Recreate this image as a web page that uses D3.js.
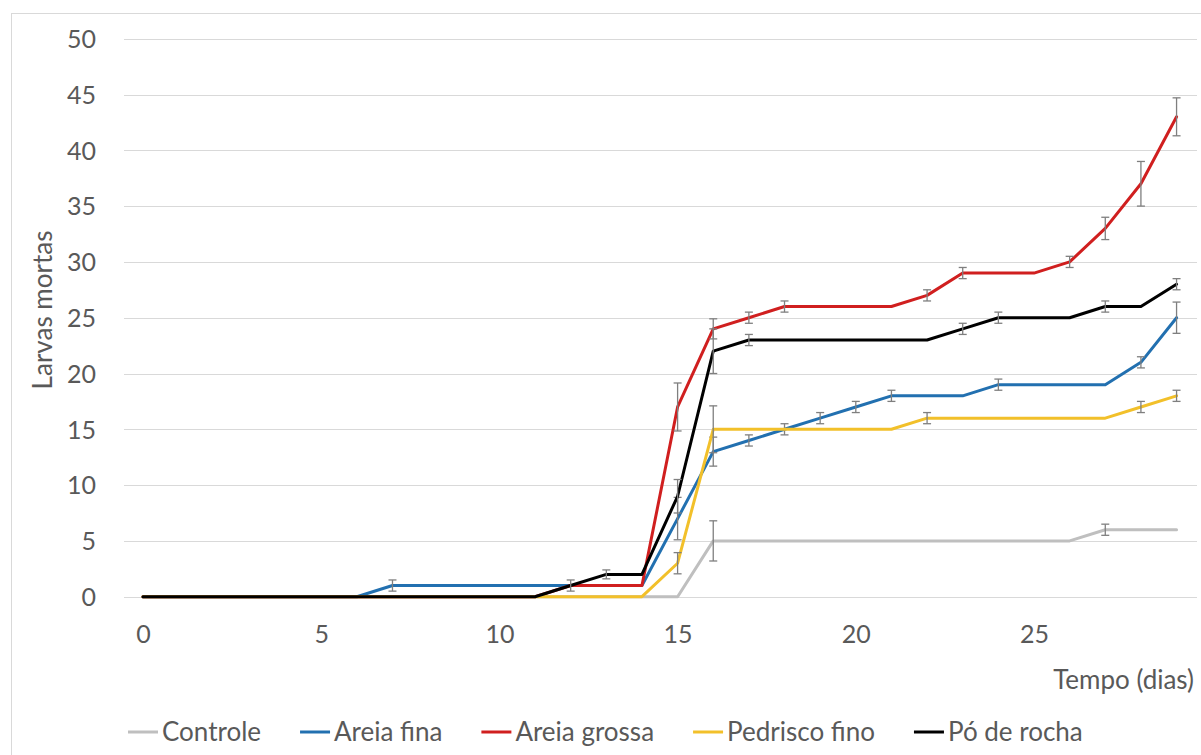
<!DOCTYPE html>
<html>
<head>
<meta charset="utf-8">
<script src="https://cdn.jsdelivr.net/npm/d3@7"></script>
<style>
  html, body { margin: 0; padding: 0; background: #fff; }
  svg { display: block; }
  text { font-family: Lato, "Open Sans", sans-serif; fill: #595959; }
</style>
</head>
<body>
<svg id="chart" width="1201" height="755"></svg>
<script>
// Days of observation
const days = d3.range(0, 30);

// Cumulative dead larvae per treatment, day 0..29
const controle      = [0,0,0,0,0,0,0,0,0,0,0,0,0,0,0,0,5,5,5,5,5,5,5,5,5,5,5,6,6,6];
const areiaFina     = [0,0,0,0,0,0,0,1,1,1,1,1,1,1,1,7,13,14,15,16,17,18,18,18,19,19,19,19,21,25];
const areiaGrossa   = [0,0,0,0,0,0,0,0,0,0,0,0,1,1,1,17,24,25,26,26,26,26,27,29,29,29,30,33,37,43];
const pedriscoFino  = [0,0,0,0,0,0,0,0,0,0,0,0,0,0,0,3,15,15,15,15,15,15,16,16,16,16,16,16,17,18];
const poDeRocha     = [0,0,0,0,0,0,0,0,0,0,0,0,1,2,2,9,22,23,23,23,23,23,23,24,25,25,25,26,26,28];

// Error bar half-widths (0 = no bar)
const errControle     = [0,0,0,0,0,0,0,0,0,0,0,0,0,0,0,0,1.8,0,0,0,0,0,0,0,0,0,0,0.5,0,0];
const errAreiaFina    = [0,0,0,0,0,0,0,0.5,0,0,0,0,0,0,0,1.9,1.3,0.5,0.5,0.5,0.5,0.5,0,0,0.5,0,0,0,0.5,1.4];
const errAreiaGrossa  = [0,0,0,0,0,0,0,0,0,0,0,0,0,0,0,2.15,0.9,0.5,0.5,0,0,0,0.5,0.5,0,0,0.5,1.0,2.0,1.7];
const errPedriscoFino = [0,0,0,0,0,0,0,0,0,0,0,0,0,0,0,0.95,2.1,0,0,0,0,0,0.5,0,0,0,0,0,0.5,0.5];
const errPoDeRocha    = [0,0,0,0,0,0,0,0,0,0,0,0,0.5,0.4,0,1.5,2.0,0.5,0,0,0,0,0,0.5,0.5,0,0,0.5,0,0.5];

const seriesNames  = ["Controle", "Areia fina", "Areia grossa", "Pedrisco fino", "Pó de rocha"];
const seriesColors = ["#bfbfbf", "#2270b0", "#d01f1f", "#f2c02a", "#000000"];

const yTicks = [0, 5, 10, 15, 20, 25, 30, 35, 40, 45, 50];
const xTicks = [0, 5, 10, 15, 20, 25];

const series = [
  { name: seriesNames[0], color: seriesColors[0], values: controle,     err: errControle },
  { name: seriesNames[1], color: seriesColors[1], values: areiaFina,    err: errAreiaFina },
  { name: seriesNames[2], color: seriesColors[2], values: areiaGrossa,  err: errAreiaGrossa },
  { name: seriesNames[3], color: seriesColors[3], values: pedriscoFino, err: errPedriscoFino },
  { name: seriesNames[4], color: seriesColors[4], values: poDeRocha,    err: errPoDeRocha }
];

const svg = d3.select("#chart");

// Chart area frame
svg.append("rect")
  .attr("x", 11.5).attr("y", 13.5)
  .attr("width", 1220).attr("height", 780)
  .attr("fill", "#fff").attr("stroke", "#d9d9d9").attr("stroke-width", 1);

const plot = { left: 124, right: 1197, top: 38.7, bottom: 596.7 };

const x = d3.scaleLinear().domain([0, 25]).range([143, 1034]);
const y = d3.scaleLinear().domain([0, 50]).range([plot.bottom, plot.top]);

// Horizontal gridlines
svg.append("g")
  .selectAll("line")
  .data(yTicks)
  .join("line")
  .attr("x1", plot.left).attr("x2", plot.right)
  .attr("y1", d => Math.round(y(d)) + 0.5).attr("y2", d => Math.round(y(d)) + 0.5)
  .attr("stroke", "#d9d9d9").attr("stroke-width", 1);

// Y axis labels
const yAxis = d3.axisLeft(y).tickValues(yTicks).tickSize(0).tickPadding(0);
svg.append("g")
  .attr("transform", "translate(96,0)")
  .call(yAxis)
  .call(g => g.select(".domain").remove())
  .call(g => g.selectAll("text")
    .attr("font-size", 25).attr("dy", "0.35em")
    .style("font-family", "Lato, 'Open Sans', sans-serif").attr("fill", "#595959"));

// X axis labels
const xAxis = d3.axisBottom(x).tickValues(xTicks).tickSize(0).tickPadding(0);
svg.append("g")
  .attr("transform", "translate(0,634)")
  .call(xAxis)
  .call(g => g.select(".domain").remove())
  .call(g => g.selectAll("text")
    .attr("font-size", 25).attr("dy", "0.35em")
    .style("font-family", "Lato, 'Open Sans', sans-serif").attr("fill", "#595959"));

// Axis titles
svg.append("text")
  .attr("transform", "translate(43,310) rotate(-90)")
  .attr("text-anchor", "middle").attr("dy", "0.35em")
  .attr("font-size", 26)
  .text("Larvas mortas");

svg.append("text")
  .attr("x", 1194).attr("y", 689)
  .attr("text-anchor", "end")
  .attr("font-size", 26)
  .text("Tempo (dias)");

// Series lines and error bars
const line = d3.line().x((d, i) => x(days[i])).y(d => y(d));

series.forEach(s => {
  const g = svg.append("g");
  g.append("path")
    .datum(s.values)
    .attr("d", line)
    .attr("fill", "none")
    .attr("stroke", s.color)
    .attr("stroke-width", 3)
    .attr("stroke-linejoin", "round")
    .attr("stroke-linecap", "round");

  const bars = days.map((d, i) => ({ d, v: s.values[i], e: s.err[i] })).filter(p => p.e > 0);
  const eb = g.append("g").attr("stroke", "#7f7f7f").attr("stroke-width", 1.3).attr("fill", "none");
  eb.selectAll("line.v").data(bars).join("line").attr("class", "v")
    .attr("x1", p => x(p.d)).attr("x2", p => x(p.d))
    .attr("y1", p => y(p.v - p.e)).attr("y2", p => y(p.v + p.e));
  eb.selectAll("line.t").data(bars).join("line").attr("class", "t")
    .attr("x1", p => x(p.d) - 4).attr("x2", p => x(p.d) + 4)
    .attr("y1", p => y(p.v + p.e)).attr("y2", p => y(p.v + p.e));
  eb.selectAll("line.b").data(bars).join("line").attr("class", "b")
    .attr("x1", p => x(p.d) - 4).attr("x2", p => x(p.d) + 4)
    .attr("y1", p => y(p.v - p.e)).attr("y2", p => y(p.v - p.e));
});

// Legend along the bottom
const legend = svg.append("g").attr("transform", "translate(0,732)");
let cursor = 128;
series.forEach(s => {
  const item = legend.append("g").attr("transform", `translate(${cursor},0)`);
  item.append("line")
    .attr("x1", 0).attr("x2", 30).attr("y1", 0).attr("y2", 0)
    .attr("stroke", s.color).attr("stroke-width", 3);
  const t = item.append("text")
    .attr("x", 34).attr("dy", "0.35em")
    .attr("font-size", 26)
    .text(s.name);
  cursor += 34 + t.node().getComputedTextLength() + 39;
});
</script>
</body>
</html>
